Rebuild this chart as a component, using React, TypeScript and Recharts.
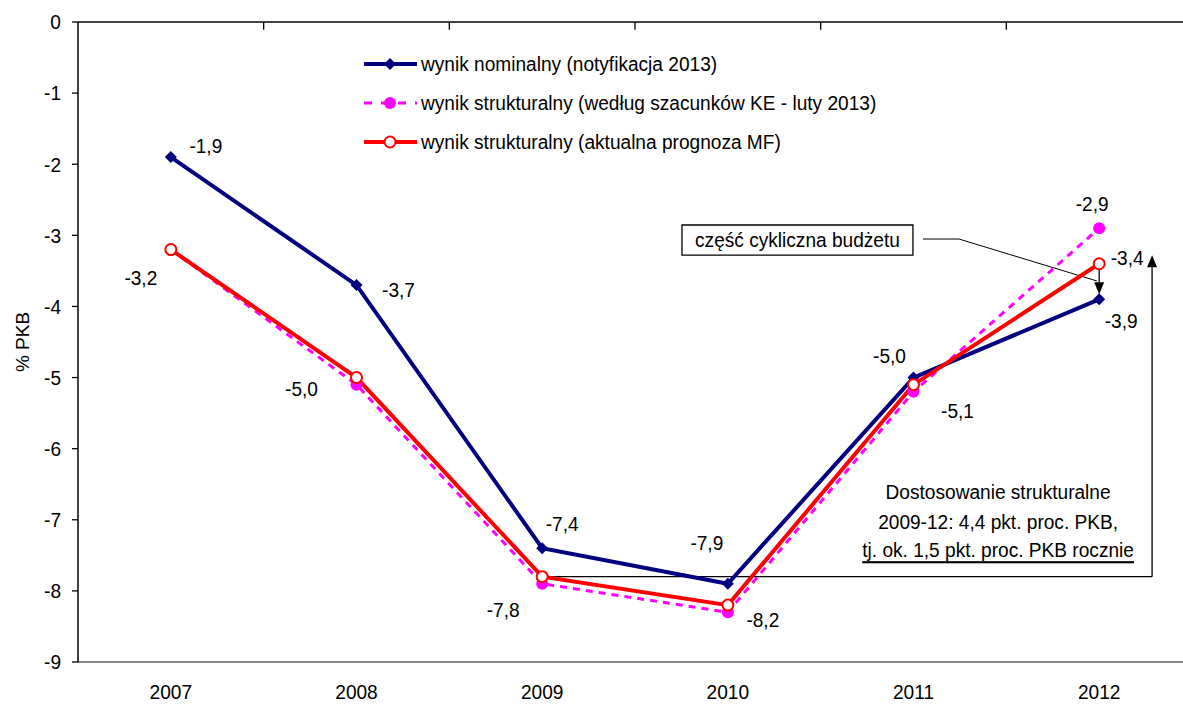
import React from 'react';
import { LineChart, Line, XAxis, YAxis, ReferenceLine, ReferenceArea, LabelList, Legend } from 'recharts';

const years = ['2007', '2008', '2009', '2010', '2011', '2012'];
const nominal = [-1.9, -3.7, -7.4, -7.9, -5.0, -3.9];
const structKE = [-3.2, -5.1, -7.9, -8.3, -5.2, -2.9];
const structMF = [-3.2, -5.0, -7.8, -8.2, -5.1, -3.4];
const yTicks = [0, -1, -2, -3, -4, -5, -6, -7, -8, -9];
const nameNominal = 'wynik nominalny (notyfikacja 2013)';
const nameKE = 'wynik strukturalny (według szacunków KE - luty 2013)';
const nameMF = 'wynik strukturalny (aktualna prognoza MF)';
const yAxisTitle = '% PKB';
const boxText = 'część cykliczna budżetu';
const noteLines = ['Dostosowanie strukturalne', '2009-12: 4,4 pkt. proc. PKB,', 'tj. ok. 1,5 pkt. proc. PKB rocznie'];

const data = years.map((y, i) => ({ year: y, nominal: nominal[i], ke: structKE[i], mf: structMF[i] }));
const boundaries = years.slice(1).map((_, i) => i + 1);

const NAVY = '#000080';
const MAGENTA = '#FF00FF';
const RED = '#FF0000';
const FONT = '"Liberation Sans", Arial, sans-serif';
const SX = 0.91;
const FS = 21;

const W = 1200;
const H = 706;
const LEFT = 78;
const RIGHT_M = 8;
const PLOT_W = W - LEFT - RIGHT_M;
const HALF_BAND = PLOT_W / years.length / 2;

const fmt = (v: number) => v.toFixed(1).replace('.', ',');

const ST = ({ x, y, anchor = 'middle', size = FS, children, underline = false }: any) => (
  <text
    transform={`translate(${x},${y}) scale(${SX},1)`}
    textAnchor={anchor}
    dominantBaseline="central"
    fontSize={size}
    fontFamily={FONT}
    fill="#000"
    textDecoration={underline ? 'underline' : undefined}
  >
    {children}
  </text>
);

const nomOff: Array<[number, number] | null> = [[35, -11], [42, 5], [20, -25], [-21, -41], [-24, -22], [22, 21]];
const mfOff: Array<[number, number] | null> = [[-30, 28], [-55, 11], [-39, 33], [35, 15], [44, 26], [28, -6]];
const keOff: Array<[number, number] | null> = [null, null, null, null, null, [-7, -25]];

const makeLabel = (offs: Array<[number, number] | null>) => (props: any) => {
  const { x, y, value, index } = props;
  const o = offs[index];
  if (!o || x == null || y == null) return null;
  return <ST x={x + o[0]} y={y + o[1]}>{fmt(Number(value))}</ST>;
};

const Diamond = (props: any) => {
  const { cx, cy } = props;
  if (cx == null || cy == null) return null;
  const s = 6;
  return <polygon points={`${cx},${cy - s} ${cx + s},${cy} ${cx},${cy + s} ${cx - s},${cy}`} fill={NAVY} />;
};

const Arrow = (props: any) => {
  const { x1, y1, x2, y2 } = props;
  const ang = Math.atan2(y2 - y1, x2 - x1);
  const L = 12;
  const hw = 5;
  const bx = x2 - L * Math.cos(ang);
  const by = y2 - L * Math.sin(ang);
  const px = -Math.sin(ang) * hw;
  const py = Math.cos(ang) * hw;
  return (
    <g>
      <line x1={x1} y1={y1} x2={bx} y2={by} stroke="#000" strokeWidth={1.3} />
      <polygon points={`${x2},${y2} ${bx + px},${by + py} ${bx - px},${by - py}`} fill="#000" />
    </g>
  );
};

const NoteArrow = (props: any) => {
  const { x1, y1 } = props;
  const dys = [85, 55, 27];
  return (
    <g>
      <Arrow {...props} />
      {noteLines.map((t, i) => (
        <ST key={i} x={x1 - 154} y={y1 - dys[i]} underline={i === 2}>{t}</ST>
      ))}
    </g>
  );
};

const BoxLabel = (props: any) => {
  const vb = props.viewBox || {};
  return <ST x={vb.x + vb.width / 2} y={vb.y + vb.height / 2}>{boxText}</ST>;
};

const YTitle = (props: any) => {
  const vb = props.viewBox || {};
  return (
    <text
      transform={`translate(${vb.x + 22},${vb.y + vb.height / 2}) rotate(-90)`}
      textAnchor="middle"
      dominantBaseline="central"
      fontSize={19}
      fontFamily={FONT}
      fill="#000"
    >
      {yAxisTitle}
    </text>
  );
};

const YTick = (props: any) => {
  const { x, y, payload } = props;
  return <ST x={x} y={y} anchor="end">{String(payload.value)}</ST>;
};

const XTick = (props: any) => {
  const { x, y, payload } = props;
  return <ST x={x} y={y + 22}>{payload.value}</ST>;
};

const LegendContent = () => {
  const rows = [
    { name: nameNominal, color: NAVY, dash: undefined, width: 4, marker: 'diamond' },
    { name: nameKE, color: MAGENTA, dash: '8 9', width: 3, marker: 'dot' },
    { name: nameMF, color: RED, dash: undefined, width: 4, marker: 'open' },
  ];
  const ys = [24, 63, 102];
  return (
    <svg width={560} height={125} style={{ display: 'block' }}>
      {rows.map((r, i) => {
        const y = ys[i];
        return (
          <g key={i}>
            <line x1={14} x2={67} y1={y} y2={y} stroke={r.color} strokeWidth={r.width} strokeDasharray={r.dash} />
            {r.marker === 'diamond' && <polygon points={`40,${y - 6} 46,${y} 40,${y + 6} 34,${y}`} fill={NAVY} />}
            {r.marker === 'dot' && <circle cx={40} cy={y} r={6} fill={MAGENTA} />}
            {r.marker === 'open' && <circle cx={40} cy={y} r={5.5} fill="#fff" stroke={RED} strokeWidth={2} />}
            <ST x={71} y={y} anchor="start">{r.name}</ST>
          </g>
        );
      })}
    </svg>
  );
};

export default function App() {
  return (
    <div style={{ position: 'absolute', left: 0, top: 0, width: 1183, height: 706, overflow: 'hidden', background: '#fff' }}>
      <LineChart width={W} height={H} data={data} margin={{ top: 22, right: RIGHT_M, bottom: 0, left: 0 }}>
        <XAxis
          dataKey="year"
          height={44}
          padding={{ left: HALF_BAND, right: HALF_BAND }}
          axisLine={{ stroke: '#888', strokeWidth: 2 }}
          tickLine={false}
          tick={<XTick />}
          interval={0}
        />
        <XAxis
          xAxisId="top"
          dataKey="annot"
          orientation="top"
          type="number"
          domain={[0, 6]}
          allowDataOverflow
          height={0}
          hide
        />
        <YAxis
          width={LEFT}
          domain={[-9, 0]}
          ticks={yTicks}
          interval={0}
          allowDataOverflow
          tickSize={6}
          tickMargin={11}
          axisLine={{ stroke: '#000', strokeWidth: 1.5 }}
          tickLine={{ stroke: '#000', strokeWidth: 1.3 }}
          tick={<YTick />}
          label={YTitle}
        />
        <ReferenceLine y={0} stroke="#444" strokeWidth={2} />
        {boundaries.map((b) => (
          <ReferenceLine key={b} xAxisId="top" segment={[{ x: b, y: 0 }, { x: b, y: -0.11 }]} stroke="#000" strokeWidth={1.3} />
        ))}
        <Legend
          layout="horizontal"
          verticalAlign="middle"
          align="center"
          content={LegendContent}
          wrapperStyle={{ position: 'absolute', left: 350, top: 40, width: 560, height: 125 }}
        />
        <ReferenceArea
          xAxisId="top"
          x1={3.253}
          x2={4.497}
          y1={-3.277}
          y2={-2.855}
          fill="#fff"
          fillOpacity={1}
          stroke="#000"
          strokeWidth={1.3}
          label={BoxLabel}
        />
        <ReferenceLine xAxisId="top" segment={[{ x: 4.551, y: -3.052 }, { x: 4.745, y: -3.052 }]} stroke="#000" strokeWidth={1} />
        <ReferenceLine xAxisId="top" segment={[{ x: 4.745, y: -3.052 }, { x: 5.488, y: -3.642 }]} stroke="#000" strokeWidth={1} />
        <ReferenceLine xAxisId="top" segment={[{ x: 5.5, y: -3.47 }, { x: 5.5, y: -3.83 }]} shape={Arrow} />
        <ReferenceLine xAxisId="top" segment={[{ x: 2.5, y: -7.8 }, { x: 5.785, y: -7.8 }]} stroke="#000" strokeWidth={1.3} />
        <ReferenceLine xAxisId="top" segment={[{ x: 5.785, y: -7.8 }, { x: 5.785, y: -3.28 }]} shape={NoteArrow} />
        <Line
          type="linear"
          dataKey="ke"
          name={nameKE}
          stroke={MAGENTA}
          strokeWidth={3}
          strokeDasharray="7 6"
          dot={{ r: 6, fill: MAGENTA, stroke: MAGENTA, strokeWidth: 0 }}
          isAnimationActive={false}
        >
          <LabelList dataKey="ke" content={makeLabel(keOff)} />
        </Line>
        <Line
          type="linear"
          dataKey="nominal"
          name={nameNominal}
          stroke={NAVY}
          strokeWidth={4}
          dot={<Diamond />}
          isAnimationActive={false}
        >
          <LabelList dataKey="nominal" content={makeLabel(nomOff)} />
        </Line>
        <Line
          type="linear"
          dataKey="mf"
          name={nameMF}
          stroke={RED}
          strokeWidth={4}
          dot={{ r: 5.5, fill: '#fff', stroke: RED, strokeWidth: 2 }}
          isAnimationActive={false}
        >
          <LabelList dataKey="mf" content={makeLabel(mfOff)} />
        </Line>
      </LineChart>
    </div>
  );
}
